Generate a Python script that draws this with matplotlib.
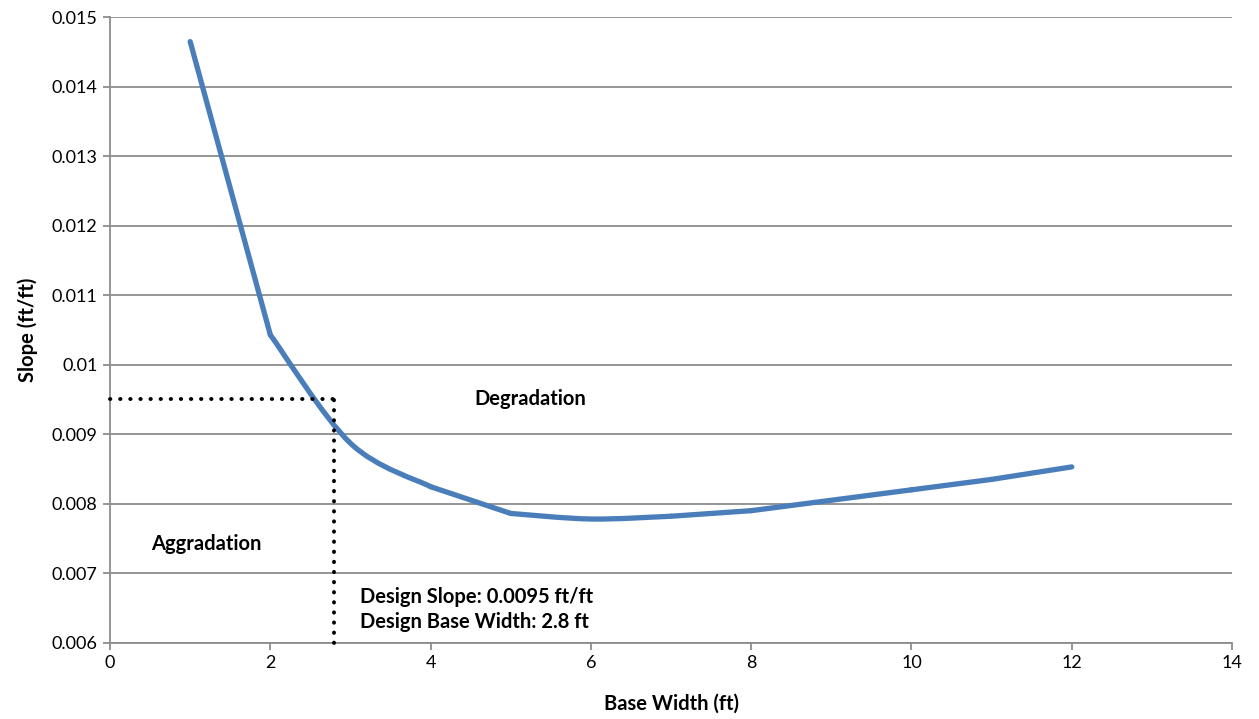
import matplotlib
matplotlib.use("Agg")
import matplotlib.pyplot as plt
from matplotlib.path import Path
from matplotlib.patches import PathPatch

plt.rcParams['font.family'] = ['Lato', 'DejaVu Sans']

# data
base_width = [1, 2, 3, 4, 5, 6, 7, 8, 9, 10, 11, 12]
slope = [0.01465, 0.01043, 0.00887, 0.008245, 0.00786, 0.00778, 0.00782,
         0.00790, 0.00805, 0.00820, 0.00835, 0.00853]
# the curve in the reference is drawn as separately smoothed pieces
# (index ranges into the arrays above)
pieces = [(0, 1), (1, 3), (3, 4), (4, 6), (6, 7), (7, 9), (9, 10), (10, 11)]

design_width = 2.8
design_slope = 0.0095

x_ticks = [0, 2, 4, 6, 8, 10, 12, 14]
y_ticks = [0.006, 0.007, 0.008, 0.009, 0.01, 0.011, 0.012, 0.013, 0.014, 0.015]
y_tick_labels = ['0.006', '0.007', '0.008', '0.009', '0.01', '0.011',
                 '0.012', '0.013', '0.014', '0.015']

line_color = '#4A7EBB'
grid_color = '#8C8C8C'

fig = plt.figure(figsize=(12.59, 7.19), dpi=100)
ax = fig.add_axes([0.0874, 0.1061, 0.8912, 0.8699])


def smooth_path(xs, ys):
    # Catmull-Rom style bezier, like the spreadsheet "smoothed line"
    verts = [(xs[0], ys[0])]
    codes = [Path.MOVETO]
    n = len(xs)
    for i in range(n - 1):
        x0, y0 = (xs[i - 1], ys[i - 1]) if i > 0 else (xs[i], ys[i])
        x1, y1 = xs[i], ys[i]
        x2, y2 = xs[i + 1], ys[i + 1]
        x3, y3 = (xs[i + 2], ys[i + 2]) if i + 2 < n else (x2, y2)
        c1 = (x1 + (x2 - x0) / 6.0, y1 + (y2 - y0) / 6.0)
        c2 = (x2 - (x3 - x1) / 6.0, y2 - (y3 - y1) / 6.0)
        verts += [c1, c2, (x2, y2)]
        codes += [Path.CURVE4, Path.CURVE4, Path.CURVE4]
    return Path(verts, codes)


for a, b in pieces:
    patch = PathPatch(smooth_path(base_width[a:b + 1], slope[a:b + 1]),
                      facecolor='none', edgecolor=line_color, lw=3.8,
                      capstyle='round', joinstyle='round', zorder=3)
    ax.add_patch(patch)

# design point guides
dots = (0, (0.1, 2.5))
ax.plot([0, design_width], [design_slope, design_slope], color='black',
        lw=2.8, linestyle=dots, dash_capstyle='round', zorder=4,
        clip_on=False)
ax.plot([design_width, design_width], [0.006, design_slope], color='black',
        lw=2.8, linestyle=dots, dash_capstyle='round', zorder=4,
        clip_on=False)

ax.set_xlim(0, 14)
ax.set_ylim(0.006, 0.015)
ax.set_xticks(x_ticks)
ax.set_yticks(y_ticks)
ax.set_yticklabels(y_tick_labels)
ax.tick_params(axis='both', labelsize=13, color=grid_color, length=5,
               width=1.3, direction='out', pad=4)

ax.grid(axis='y', color=grid_color, lw=1.3)
ax.set_axisbelow(True)
for side in ['top', 'right']:
    ax.spines[side].set_visible(False)
for side in ['left', 'bottom']:
    ax.spines[side].set_color(grid_color)
    ax.spines[side].set_linewidth(1.3)

ax.set_xlabel('Base Width (ft)', fontsize=14.5, fontweight='bold', labelpad=16)
ax.set_ylabel('Slope (ft/ft)', fontsize=14.5, fontweight='bold', labelpad=10)

ax.text(5.24, 0.00951, 'Degradation', fontsize=14.5, fontweight='bold',
        ha='center', va='center')
ax.text(1.2, 0.00742, 'Aggradation', fontsize=14.5, fontweight='bold',
        ha='center', va='center')
ax.text(3.12, 0.00666, 'Design Slope: 0.0095 ft/ft', fontsize=14.5,
        fontweight='bold', ha='left', va='center')
ax.text(3.12, 0.0063, 'Design Base Width: 2.8 ft', fontsize=14.5,
        fontweight='bold', ha='left', va='center')

fig.savefig('out.png', dpi=100)
